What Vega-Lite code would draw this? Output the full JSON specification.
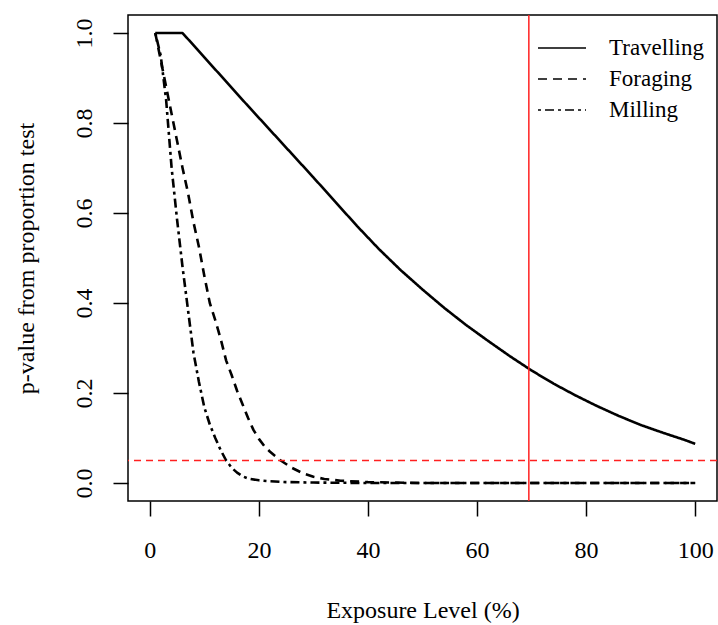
{
  "$schema": "https://vega.github.io/schema/vega-lite/v6.json",
  "autosize": "none",
  "width": 589,
  "height": 486,
  "padding": {"left": 128, "top": 15, "right": 1, "bottom": 124},
  "background": "white",
  "config": {
    "view": {"stroke": "#000", "strokeWidth": 1.5},
    "font": "Liberation Serif",
    "axis": {
      "domain": false,
      "grid": false,
      "tickColor": "#000",
      "tickWidth": 1.5,
      "tickSize": 15,
      "labelFont": "Liberation Serif",
      "labelFontSize": 24,
      "labelColor": "#000",
      "labelPadding": 22,
      "titleFont": "Liberation Serif",
      "titleFontSize": 24,
      "titleFontWeight": "normal",
      "titleColor": "#000"
    }
  },
  "datasets": {
    "curves": [
      {"group": "Travelling", "x": 1, "p": 1.0},
      {"group": "Travelling", "x": 3, "p": 1.0},
      {"group": "Travelling", "x": 6, "p": 1.0},
      {"group": "Travelling", "x": 10, "p": 0.946},
      {"group": "Travelling", "x": 14, "p": 0.892},
      {"group": "Travelling", "x": 18, "p": 0.838},
      {"group": "Travelling", "x": 22, "p": 0.785},
      {"group": "Travelling", "x": 26, "p": 0.732},
      {"group": "Travelling", "x": 30, "p": 0.679},
      {"group": "Travelling", "x": 34, "p": 0.625},
      {"group": "Travelling", "x": 38, "p": 0.571},
      {"group": "Travelling", "x": 42, "p": 0.520},
      {"group": "Travelling", "x": 46, "p": 0.473},
      {"group": "Travelling", "x": 50, "p": 0.430},
      {"group": "Travelling", "x": 54, "p": 0.389},
      {"group": "Travelling", "x": 58, "p": 0.351},
      {"group": "Travelling", "x": 62, "p": 0.316},
      {"group": "Travelling", "x": 66, "p": 0.282},
      {"group": "Travelling", "x": 70, "p": 0.250},
      {"group": "Travelling", "x": 74, "p": 0.221},
      {"group": "Travelling", "x": 78, "p": 0.195},
      {"group": "Travelling", "x": 82, "p": 0.171},
      {"group": "Travelling", "x": 86, "p": 0.149},
      {"group": "Travelling", "x": 90, "p": 0.129},
      {"group": "Travelling", "x": 94, "p": 0.112},
      {"group": "Travelling", "x": 98, "p": 0.096},
      {"group": "Travelling", "x": 100, "p": 0.087},
      {"group": "Foraging", "x": 1, "p": 1.0},
      {"group": "Foraging", "x": 2, "p": 0.94},
      {"group": "Foraging", "x": 3, "p": 0.88},
      {"group": "Foraging", "x": 4, "p": 0.82},
      {"group": "Foraging", "x": 5, "p": 0.76},
      {"group": "Foraging", "x": 6, "p": 0.70},
      {"group": "Foraging", "x": 7, "p": 0.645},
      {"group": "Foraging", "x": 8, "p": 0.58},
      {"group": "Foraging", "x": 9, "p": 0.525},
      {"group": "Foraging", "x": 10, "p": 0.46},
      {"group": "Foraging", "x": 11, "p": 0.40},
      {"group": "Foraging", "x": 12, "p": 0.362},
      {"group": "Foraging", "x": 13, "p": 0.32},
      {"group": "Foraging", "x": 14, "p": 0.272},
      {"group": "Foraging", "x": 15, "p": 0.24},
      {"group": "Foraging", "x": 16, "p": 0.205},
      {"group": "Foraging", "x": 17, "p": 0.175},
      {"group": "Foraging", "x": 18, "p": 0.145},
      {"group": "Foraging", "x": 19, "p": 0.118},
      {"group": "Foraging", "x": 20, "p": 0.098},
      {"group": "Foraging", "x": 21, "p": 0.082},
      {"group": "Foraging", "x": 22, "p": 0.07},
      {"group": "Foraging", "x": 24, "p": 0.05},
      {"group": "Foraging", "x": 26, "p": 0.034},
      {"group": "Foraging", "x": 28, "p": 0.022},
      {"group": "Foraging", "x": 30, "p": 0.014},
      {"group": "Foraging", "x": 32, "p": 0.009},
      {"group": "Foraging", "x": 35, "p": 0.005},
      {"group": "Foraging", "x": 40, "p": 0.002},
      {"group": "Foraging", "x": 45, "p": 0.001},
      {"group": "Foraging", "x": 50, "p": 0.0},
      {"group": "Foraging", "x": 60, "p": 0.0},
      {"group": "Foraging", "x": 70, "p": 0.0},
      {"group": "Foraging", "x": 80, "p": 0.0},
      {"group": "Foraging", "x": 90, "p": 0.0},
      {"group": "Foraging", "x": 100, "p": 0.0},
      {"group": "Milling", "x": 1, "p": 1.0},
      {"group": "Milling", "x": 2, "p": 0.95},
      {"group": "Milling", "x": 3, "p": 0.85},
      {"group": "Milling", "x": 4, "p": 0.70},
      {"group": "Milling", "x": 5, "p": 0.585},
      {"group": "Milling", "x": 6, "p": 0.48},
      {"group": "Milling", "x": 7, "p": 0.385},
      {"group": "Milling", "x": 8, "p": 0.29},
      {"group": "Milling", "x": 9, "p": 0.225},
      {"group": "Milling", "x": 10, "p": 0.168},
      {"group": "Milling", "x": 11, "p": 0.13},
      {"group": "Milling", "x": 12, "p": 0.10},
      {"group": "Milling", "x": 13, "p": 0.073},
      {"group": "Milling", "x": 14, "p": 0.05},
      {"group": "Milling", "x": 15, "p": 0.034},
      {"group": "Milling", "x": 16, "p": 0.023},
      {"group": "Milling", "x": 17, "p": 0.015},
      {"group": "Milling", "x": 18, "p": 0.01},
      {"group": "Milling", "x": 20, "p": 0.006},
      {"group": "Milling", "x": 22, "p": 0.004},
      {"group": "Milling", "x": 25, "p": 0.002},
      {"group": "Milling", "x": 30, "p": 0.001},
      {"group": "Milling", "x": 40, "p": 0.0},
      {"group": "Milling", "x": 50, "p": 0.0},
      {"group": "Milling", "x": 60, "p": 0.0},
      {"group": "Milling", "x": 70, "p": 0.0},
      {"group": "Milling", "x": 80, "p": 0.0},
      {"group": "Milling", "x": 90, "p": 0.0},
      {"group": "Milling", "x": 100, "p": 0.0}
    ]
  },
  "layer": [
    {
      "data": {"name": "curves"},
      "mark": {"type": "line", "color": "#000", "strokeWidth": 2.6, "strokeJoin": "round"},
      "encoding": {
        "x": {
          "field": "x", "type": "quantitative",
          "scale": {"domain": [-4, 104], "nice": false, "zero": false},
          "axis": {
            "values": [0, 20, 40, 60, 80, 100],
            "title": "Exposure Level (%)",
            "titleX": 294.5, "titleY": 116, "titleBaseline": "alphabetic", "titleAnchor": "middle"
          }
        },
        "y": {
          "field": "p", "type": "quantitative",
          "scale": {"domain": [-0.04, 1.04], "nice": false, "zero": false},
          "axis": {
            "values": [0, 0.2, 0.4, 0.6, 0.8, 1.0],
            "format": ".1f",
            "labelAngle": 270,
            "labelAlign": "center",
            "labelBaseline": "alphabetic",
            "title": "p-value from proportion test",
            "titleX": -95, "titleY": 243, "titleAngle": 270,
            "titleBaseline": "alphabetic", "titleAlign": "center"
          }
        },
        "strokeDash": {
          "field": "group", "type": "nominal",
          "scale": {
            "domain": ["Travelling", "Foraging", "Milling"],
            "range": [[1, 0], [9, 6], [3, 4, 9, 4]]
          },
          "legend": {
            "title": null,
            "orient": "none",
            "legendX": 421,
            "legendY": 20,
            "symbolType": "M-2,0H2",
            "symbolSize": 576,
            "symbolStrokeWidth": 1.6,
            "symbolStrokeColor": "#000",
            "labelFont": "Liberation Serif",
            "labelFontSize": 23,
            "labelColor": "#000",
            "labelOffset": 34,
            "rowPadding": 6,
            "labelLimit": 300
          }
        }
      }
    },
    {
      "data": {"values": [{"cut": 0.05}]},
      "mark": {"type": "rule", "color": "#ff2020", "strokeWidth": 1.5, "strokeDash": [7, 5]},
      "encoding": {"y": {"field": "cut", "type": "quantitative"}}
    },
    {
      "data": {"values": [{"level": 69.5}]},
      "mark": {"type": "rule", "color": "#ff2020", "strokeWidth": 1.5},
      "encoding": {"x": {"field": "level", "type": "quantitative"}}
    }
  ]
}
